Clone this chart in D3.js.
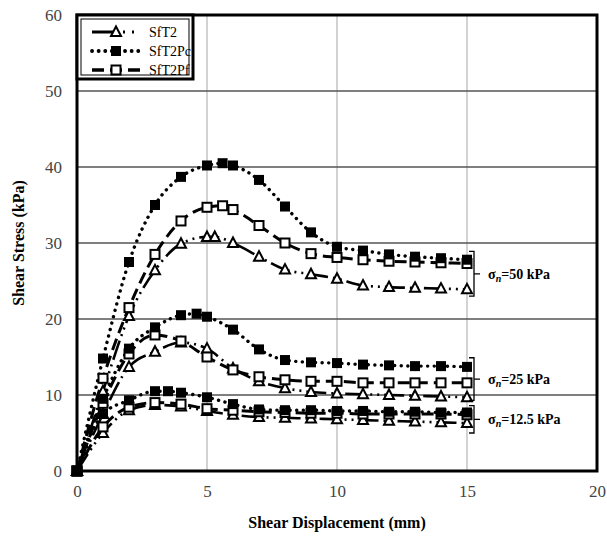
<!DOCTYPE html>
<html><head><meta charset="utf-8">
<script src="https://cdn.jsdelivr.net/npm/d3@7/dist/d3.min.js"></script>
<style>
body{margin:0;background:#fff;}
svg{display:block;}
svg text{font-family:"Liberation Serif","DejaVu Serif",serif;}
</style></head>
<body><svg id="c" width="607" height="542"></svg>
<script>
// ---------- data ----------
const xTicks = [0, 5, 10, 15, 20];
const yTicks = [0, 10, 20, 30, 40, 50, 60];
const seriesNames = ["SfT2", "SfT2Pc", "SfT2Pf"];

// sigma_n = 50 kPa
const x50 = [0, 1, 2, 3, 4, 5, 5.6, 6, 7, 8, 9, 10, 11, 12, 13, 14, 15];
const pc50 = [0, 14.8, 27.5, 35.0, 38.7, 40.2, 40.5, 40.2, 38.3, 34.8, 31.4, 29.5, 29.0, 28.5, 28.2, 28.0, 27.8];
const pf50 = [0, 12.2, 21.5, 28.5, 32.9, 34.7, 34.9, 34.4, 32.3, 30.0, 28.6, 28.1, 27.8, 27.6, 27.5, 27.4, 27.3];
const xT50 = [0, 1, 2, 3, 4, 5, 5.3, 6, 7, 8, 9, 10, 11, 12, 13, 14, 15];
const t50 = [0, 10.5, 20.4, 26.4, 29.9, 30.8, 30.8, 30.0, 28.2, 26.5, 25.9, 25.3, 24.4, 24.2, 24.1, 24.0, 23.9];

// sigma_n = 25 kPa
const xPc25 = [0, 1, 2, 3, 4, 4.6, 5, 6, 7, 8, 9, 10, 11, 12, 13, 14, 15];
const pc25 = [0, 9.5, 16.1, 18.9, 20.5, 20.7, 20.3, 18.6, 16.0, 14.6, 14.3, 14.2, 14.0, 13.9, 13.8, 13.8, 13.7];
const xStd = [0, 1, 2, 3, 4, 5, 6, 7, 8, 9, 10, 11, 12, 13, 14, 15];
const pf25 = [0, 8.9, 15.4, 17.9, 17.1, 15.0, 13.3, 12.4, 12.0, 11.8, 11.8, 11.6, 11.6, 11.6, 11.6, 11.6];
const t25 = [0, 7.5, 13.7, 15.7, 16.9, 16.1, 13.5, 11.8, 10.9, 10.4, 10.2, 10.1, 10.0, 9.9, 9.8, 9.7];

// sigma_n = 12.5 kPa
const xPc12 = [0, 1, 2, 3, 3.5, 4, 5, 6, 7, 8, 9, 10, 11, 12, 13, 14, 15];
const pc12 = [0, 7.5, 9.3, 10.5, 10.5, 10.3, 9.7, 8.8, 8.1, 8.0, 8.0, 7.9, 7.9, 7.8, 7.8, 7.7, 7.7];
const pf12 = [0, 5.8, 8.4, 9.0, 8.8, 8.2, 8.0, 7.8, 7.7, 7.6, 7.6, 7.5, 7.5, 7.5, 7.5, 7.4];
const t12 = [0, 5.0, 8.0, 8.7, 8.5, 7.9, 7.4, 7.1, 7.0, 6.9, 6.8, 6.7, 6.6, 6.5, 6.4, 6.3];

const annotations = ["50 kPa", "25 kPa", "12.5 kPa"];
const annotRanges = [[23.0, 28.9], [9.3, 14.9], [5.0, 8.6]];

// ---------- build ----------
const series = [
  {type: "SfT2", x: xT50, y: t50},
  {type: "SfT2Pf", x: x50, y: pf50},
  {type: "SfT2Pc", x: x50, y: pc50},
  {type: "SfT2", x: xStd, y: t25},
  {type: "SfT2Pf", x: xStd, y: pf25},
  {type: "SfT2Pc", x: xPc25, y: pc25},
  {type: "SfT2", x: xStd, y: t12},
  {type: "SfT2Pf", x: xStd, y: pf12},
  {type: "SfT2Pc", x: xPc12, y: pc12}
];

const FONT = "Liberation Serif, DejaVu Serif, serif";
const svg = d3.select("#c");
const L = 77, R = 597, T = 15, B = 471;
const x = d3.scaleLinear().domain([0, 20]).range([L, R]);
const y = d3.scaleLinear().domain([0, 60]).range([B, T]);

// gridlines
svg.append("g").selectAll("line").data(xTicks.slice(1, -1)).join("line")
  .attr("x1", d => x(d)).attr("x2", d => x(d)).attr("y1", T).attr("y2", B)
  .attr("stroke", "#b5b5b5").attr("stroke-width", 1.2);
svg.append("g").selectAll("line").data(yTicks.slice(1, -1)).join("line")
  .attr("x1", L).attr("x2", R).attr("y1", d => y(d)).attr("y2", d => y(d))
  .attr("stroke", "#555").attr("stroke-width", 1.6);

// axes (labels only)
const xAxis = d3.axisBottom(x).tickValues(xTicks).tickSize(0).tickPadding(14);
const gx = svg.append("g").attr("transform", `translate(0,${B})`).call(xAxis);
gx.attr("font-family", FONT);
gx.select(".domain").remove();
gx.selectAll("text").attr("font-size", 17).attr("fill", "#444").attr("font-family", FONT);
const yAxis = d3.axisLeft(y).tickValues(yTicks).tickSize(0).tickPadding(15);
const gy = svg.append("g").attr("transform", `translate(${L},0)`).call(yAxis);
gy.attr("font-family", FONT);
gy.select(".domain").remove();
gy.selectAll("text").attr("font-size", 17).attr("fill", "#444").attr("font-family", FONT);

// frame
svg.append("rect").attr("x", L).attr("y", T).attr("width", R - L).attr("height", B - T)
  .attr("fill", "none").attr("stroke", "#000").attr("stroke-width", 3);

// line styles
const styles = {
  "SfT2":   {dash: "20,5,2,5,2,5", cap: "butt", w: 2.6},
  "SfT2Pc": {dash: "0.1,6.5", cap: "round", w: 3.4},
  "SfT2Pf": {dash: "12,6", cap: "butt", w: 3}
};

const line = d3.line().curve(d3.curveMonotoneX);
const gl = svg.append("g");
series.forEach(s => {
  const pts = s.x.map((v, i) => [x(v), y(s.y[i])]);
  gl.append("path").attr("d", line(pts)).attr("fill", "none")
    .attr("stroke", "#000").attr("stroke-width", styles[s.type].w)
    .attr("stroke-dasharray", styles[s.type].dash).attr("stroke-linecap", styles[s.type].cap);
});

function drawMarker(g, type, cx, cy) {
  if (type === "SfT2Pc") {
    g.append("rect").attr("x", cx - 5).attr("y", cy - 5).attr("width", 10).attr("height", 10)
      .attr("fill", "#000");
  } else if (type === "SfT2Pf") {
    g.append("rect").attr("x", cx - 4.5).attr("y", cy - 4.5).attr("width", 9).attr("height", 9)
      .attr("fill", "#fff").attr("stroke", "#000").attr("stroke-width", 2);
  } else {
    g.append("path").attr("d", `M${cx},${cy - 5.5}L${cx + 5},${cy + 4}L${cx - 5},${cy + 4}Z`)
      .attr("fill", "#fff").attr("stroke", "#000").attr("stroke-width", 2);
  }
}
const gm = svg.append("g");
series.forEach(s => {
  s.x.forEach((v, i) => drawMarker(gm, s.type, x(v), y(s.y[i])));
});

// brackets & annotations
const bx = x(15) + 7;
annotRanges.forEach((r, i) => {
  const yt = y(r[1]), yb = y(r[0]), ym = (yt + yb) / 2;
  svg.append("path").attr("d", `M${bx - 5},${yt}H${bx}V${yb}H${bx - 5}M${bx},${ym}H${bx + 6}`)
    .attr("fill", "none").attr("stroke", "#000").attr("stroke-width", 1.3);
  const t = svg.append("text").attr("x", bx + 14).attr("y", ym + 5).attr("font-family", FONT)
    .attr("font-size", 14).attr("font-weight", "bold").attr("fill", "#000");
  t.append("tspan").text("σ");
  t.append("tspan").attr("font-size", 10).attr("font-style", "italic").attr("dy", 3).text("n");
  t.append("tspan").attr("dy", -3).text("=" + annotations[i]);
});

// legend
const lg = svg.append("g");
lg.append("rect").attr("x", L).attr("y", T).attr("width", 116).attr("height", 64)
  .attr("fill", "#fff").attr("stroke", "#000").attr("stroke-width", 3);
lg.append("rect").attr("x", L + 4).attr("y", T + 4).attr("width", 108).attr("height", 56)
  .attr("fill", "none").attr("stroke", "#000").attr("stroke-width", 1);
seriesNames.forEach((n, i) => {
  const yy = T + 17 + i * 19;
  lg.append("line").attr("x1", 92).attr("x2", 140).attr("y1", yy).attr("y2", yy)
    .attr("stroke", "#000").attr("stroke-width", styles[n].w + 0.4)
    .attr("stroke-dasharray", n === "SfT2" ? "24,7,2,7,2,7" : styles[n].dash)
    .attr("stroke-linecap", styles[n].cap);
  drawMarker(lg, n, 116, yy);
  lg.append("text").attr("x", 149).attr("y", yy + 5).attr("font-family", FONT)
    .attr("font-size", 14).attr("fill", "#000").text(n);
});

// axis titles
svg.append("text").attr("x", x(10)).attr("y", 528).attr("text-anchor", "middle").attr("font-family", FONT)
  .attr("font-size", 16).attr("font-weight", "bold").text("Shear Displacement (mm)");
svg.append("text").attr("transform", `translate(24,${(T + B) / 2}) rotate(-90)`).attr("font-family", FONT)
  .attr("text-anchor", "middle").attr("font-size", 16).attr("font-weight", "bold").text("Shear Stress (kPa)");
</script></body></html>
